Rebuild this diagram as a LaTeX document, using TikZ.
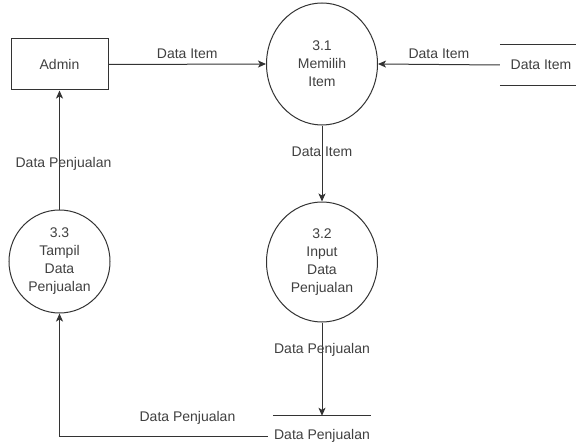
\documentclass[tikz,border=0pt]{standalone}
\usepackage{fontspec}
\setmainfont{Liberation Sans}
\usetikzlibrary{positioning,arrows.meta,shapes.geometric}
\begin{document}
\begin{tikzpicture}[
  x=1pt,y=-1pt,
  font=\fontsize{14}{18}\selectfont,
  text=black!75,
  ent/.style={draw=black!80,line width=1pt,minimum width=97pt,minimum height=51pt},
  proc/.style={ellipse,draw=black!80,line width=1pt,align=center,inner sep=0pt},
  store/.style={minimum height=40pt,inner sep=0pt},
  wall/.style={draw=black!80,line width=1pt},
  flow/.style={draw=black!80,line width=1pt,-{Stealth[length=8pt,width=7pt,inset=2pt]}},
  lbl/.style={text=black!75,inner sep=2pt}
]
\useasboundingbox (0,0) rectangle (576,444);
% ---- entity and stores ----
\node[ent] (admin) at (59.5,64.5) {Admin};
\node[store,minimum width=82pt] (dsitem) at (541,65) {Data Item};
\node[store,minimum width=98pt] (dsjual) at (322,436) {Data Penjualan};
\draw[wall] (dsitem.north west) -- (dsitem.north east);
\draw[wall] (dsitem.south west) -- (dsitem.south east);
\draw[wall] (dsjual.north west) -- (dsjual.north east);
% ---- processes ----
\node[proc,minimum width=111pt,minimum height=122pt] (p31) at (322,64) {3.1\\Memilih\\Item};
\node[proc,minimum width=111pt,minimum height=120pt] (p32) at (322,262) {3.2\\Input\\Data\\Penjualan};
\node[proc,minimum width=101pt,minimum height=103pt] (p33) at (59.5,261.5) {3.3\\Tampil\\Data\\Penjualan};
% ---- flows ----
\draw[flow] (admin.east) -- node[lbl,above=3pt]{Data Item} (p31.west);
\draw[flow] (dsitem.west) -- node[lbl,above=3pt]{Data Item} (p31.east);
\draw[flow] (p31.south) -- node[lbl,pos=0.35]{Data Item} (p32.north);
\draw[flow] (p32.south) -- node[lbl,pos=0.29]{Data Penjualan} (dsjual.north);
\draw[flow,shorten <=5pt] (dsjual.west) -| node[lbl,pos=0.2,above=9pt]{Data Penjualan} (p33.south);
\draw[flow] (p33.north) -- node[lbl,pos=0.38,xshift=4pt]{Data Penjualan} (admin.south);
\end{tikzpicture}
\end{document}
